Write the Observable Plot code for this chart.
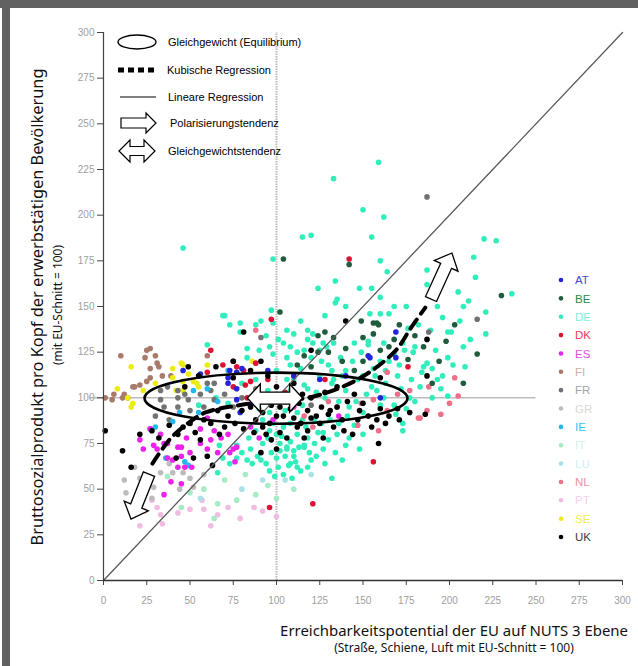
<!DOCTYPE html>
<html><head><meta charset="utf-8">
<script src="https://cdn.jsdelivr.net/npm/d3@7"></script>
<script src="https://cdn.jsdelivr.net/npm/@observablehq/plot@0.6"></script>
<style>body{margin:0;background:#fff;} #chart{width:638px;height:666px;position:relative;}</style>
</head><body><div id="chart"></div>
<script>
// ---------- data (index values EU = 100) ----------
const countries = ["AT","BE","DE","DK","ES","FI","FR","GR","IE","IT","LU","NL","PT","SE","UK"];
const dotColors = ["#2424dc","#1f5c3c","#30eebc","#dc1434","#ec22ec","#a87a6a","#727272","#bcbcbc","#22b8ee","#a6eac6","#a8e2e6","#ee7088","#f2bce2","#ecec14","#000000"];
const labelColors = ["#4848d4","#2a8a4a","#7cf0d4","#e43c58","#e04ee0","#cfb0a6","#a4a4a4","#d8d8d8","#30c6f0","#d2f4e2","#ccf2f2","#e8929c","#f4d2ec","#eeee44","#3a3a3a"];
const xTicks = [0,25,50,75,100,125,150,175,200,225,250,275,300];
const yTicks = [0,25,50,75,100,125,150,175,200,225,250,275,300];

const PT = [[21,30],[24,38],[31,40],[33,36],[43,37],[50,39],[58,39],[66,36],[72,40],[79,34],[87,40],[34,31],[28,44],[57,44],[62,30],[92,38],[100,35]];
const IT = [[37,57],[50,48],[58,50],[64,34],[66,42],[77,44],[88,47],[70,55],[95,52],[82,58],[100,45],[110,50],[45,40]];
const LU = [[80,50],[92,55],[105,55],[56,45],[120,58]];
const GR = [[12,55],[13,48],[21,56],[25,55],[29,51],[33,59],[40,59],[46,59],[50,56],[52,51],[18,62],[38,64],[28,45],[58,58],[44,50]];
const DE = [[159,229],[133,220],[150,203],[162,199],[115,188],[120,189],[155,188],[98,176],[160,175],[164,169],[134,164],[155,160],[187,170],[135,154],[134,152],[140,150],[175,150],[187,162],[220,187],[227,186],[214,177],[215,166],[205,158],[236,157],[193,150],[208,150],[211,153],[221,147],[165,146],[221,135],[189,137],[201,136],[46,182],[70,145],[97,148],[98,141],[79,136],[94,134],[101,132],[104,130],[73,140],[83,127],[90,126],[60,129],[83,122],[108,128],[112,125],[116,126],[106,122],[69,145],[79,141],[91,142],[106,137],[114,142],[121,135],[125,126],[133,130],[137,122],[145,130],[153,131],[98,124],[154,146],[160,146],[118,137],[199,136],[162,130],[153,129],[173,130],[180,128],[192,126],[208,128],[118,132],[121,130],[127,130],[129,128],[149,125],[179,125],[187,119],[199,122],[209,117],[185,117],[193,110],[183,106],[199,101],[110,110],[118,105],[125,112],[132,108],[140,104],[147,110],[155,106],[163,108],[170,112],[128,100],[136,98],[142,95],[150,92],[160,96],[115,96],[105,93],[95,104],[88,110],[80,108],[65,100],[72,97],[55,96],[100,115],[108,118],[130,118],[140,115],[165,120],[172,105],[180,98],[190,100],[102,75],[106,73],[108,76],[110,71],[113,73],[116,74],[105,68],[111,65],[107,63],[120,66],[124,81],[127,81],[127,72],[132,56],[169,91],[173,86],[173,82],[66,59],[69,67],[73,64],[77,67],[83,66],[89,68],[91,66],[97,70],[102,71],[106,72],[110,68],[116,73],[108,64],[100,67],[67,74],[77,74],[95,78],[100,80],[104,84],[112,80],[118,78],[122,75],[130,77],[135,80],[140,74],[96,60],[101,62],[114,60],[118,62],[85,72],[92,75],[145,85],[150,80],[98,86],[108,86],[115,88],
  [104,100],[108,104],[112,92],[117,84],[122,88],[126,86],[131,88],[136,86],[141,90],[146,98],[152,102],[158,104],[162,100],[168,96],[175,94],[178,110],[184,114],[190,116],[196,112],[174,126],[168,124],[160,120],[156,116],[150,112],[144,120],[138,112],[132,115],[126,120],[120,122],[114,116],[106,110],[100,98],[96,92],[92,88],[88,82],[84,78],[80,70],[86,64],[94,64],[99,57],[104,58],[109,56],[112,62],[119,70],[123,68],[128,64],[134,70],[138,66],[142,78],[148,72],[103,79],[96,82],[90,94],[116,107],[123,103],[133,110],[157,112],[163,115],[171,118],[177,100],[195,105],[202,118],[212,132],[206,142],[196,144],[182,140],[176,138],[168,150],[160,155],[148,160],[128,145],[110,135],[96,128],[88,140],[124,160]];
const FI = [[24,122],[27,116],[31,119],[32,117],[27,111],[34,112],[39,112],[18,106],[21,107],[6,102],[11,100],[12,102],[5,99],[1,100],[25,126],[30,123],[25,109],[17,106],[14,100],[60,123],[10,123],[27,127]];
const SE = [[16,117],[40,116],[46,118],[40,111],[46,109],[49,113],[54,108],[55,106],[14,100],[17,97],[42,104],[23,104],[45,119],[52,109],[46,104],[16,95],[86,120],[60,118],[30,108],[8,105]];
const FR = [[91,133],[60,108],[64,108],[37,106],[43,104],[47,102],[33,99],[62,104],[33,104],[43,100],[49,99],[56,102],[64,99],[35,95],[43,95],[187,210],[216,143],[188,136],[50,93],[70,102],[80,100],[88,105],[95,98],[30,90],[38,88],[120,96],[58,95],[75,95]];
const IE = [[27,83],[30,84],[36,67],[47,65],[49,63],[40,87],[55,92],[66,98],[72,115],[52,104],[60,105],[44,92]];
const ES = [[60,89],[56,83],[64,82],[68,78],[62,77],[72,80],[77,73],[27,83],[33,80],[37,75],[23,72],[31,72],[45,73],[73,70],[21,77],[29,74],[35,75],[43,73],[45,68],[50,70],[37,67],[43,62],[47,62],[56,75],[60,72],[39,54],[35,47],[45,53],[51,62],[76,65],[75,72],[136,90],[98,88],[85,84],[90,78],[40,66],[48,78],[66,70],[110,95]];
const NL = [[121,84],[135,95],[149,97],[156,99],[164,93],[177,104],[183,89],[187,93],[195,91],[147,85],[159,82],[182,89],[200,97],[164,114],[203,111],[188,106],[88,137],[130,98],[116,90],[205,101],[170,102]];
const DK = [[142,176],[97,143],[62,126],[69,118],[77,117],[82,107],[60,114],[75,120],[81,115],[88,119],[75,106],[83,100],[85,109],[176,117],[156,65],[121,42],[96,40],[105,103],[112,99],[95,110],[128,110]];
const AT = [[169,136],[169,122],[154,122],[73,115],[77,114],[80,116],[56,113],[72,111],[72,108],[77,105],[77,99],[86,97],[79,92],[46,115],[153,123],[95,115],[110,112],[125,110],[140,112],[160,100]];
const BE = [[104,176],[142,173],[149,142],[156,141],[159,140],[171,140],[128,136],[124,134],[133,133],[158,141],[198,131],[156,135],[216,124],[116,123],[124,125],[138,120],[150,120],[176,121],[194,120],[208,108],[102,147],[168,132],[160,126],[145,115],[130,125],[185,128],[203,140],[150,133],[112,118],[165,128],[180,134],[140,127],[230,156],[120,117],[190,108]];
const UK = [[1,82],[11,71],[16,62],[21,80],[28,82],[32,78],[38,85],[43,80],[46,84],[53,81],[56,77],[50,86],[60,68],[63,63],[52,67],[42,67],[81,83],[87,81],[92,84],[97,77],[102,81],[106,78],[104,90],[110,89],[114,86],[120,89],[123,90],[133,84],[139,82],[144,80],[158,88],[159,75],[171,88],[186,91],[150,97],[140,142],[120,126],[187,112],[160,111],[187,132],[81,136],[75,120],[91,120],[49,117],[75,111],[47,106],[85,95],[92,92],[97,96],[100,90],[108,94],[113,97],[118,93],[126,95],[130,91],[135,95],[141,98],[148,93],[153,90],[160,94],[165,90],[80,93],[72,90],[66,93],[62,86],[70,84],[90,100],[120,100],[128,103],[55,112],[65,117],[85,115],[95,112],[100,106],[110,108],[115,102],[145,102],[135,106],
  [96,86],[102,95],[107,99],[112,84],[118,82],[125,86],[131,93],[138,88],[147,88],[155,84],[163,86],[170,94],[177,92],[76,86],[67,80],[58,88],[88,88],[94,80],[116,78],[127,78],[100,72],[91,70]];

const drawOrder = [["PT",PT],["IT",IT],["LU",LU],["GR",GR],["DE",DE],["FI",FI],["SE",SE],["FR",FR],["IE",IE],["ES",ES],["NL",NL],["DK",DK],["AT",AT],["BE",BE],["UK",UK]];

// regression lines
const linearFit = [{x:0,y:0},{x:300,y:300}];
const cubicFitX = [28.3,38.7,48.6,59,77.5,100,118,137,152.6,169,177.5,186];
const cubicFitY = [64,77.7,85.9,92,95.8,98.5,100,105.6,113.3,126,138,149.4];
// annotations in data units
const equilibrium = {cx:100, cy:99.5, rx:76, ry:14};
const polarArrows = [{x1:189.6,y1:153.8,x2:201.7,y2:179},{x1:26.6,y1:58,x2:16.2,y2:33.4}];
const balanceArrow = {x1:83.4, x2:115.4, y:99.6};

// ---------- build ----------
const points = [];
for (const [c, arr] of drawOrder) for (const [x,y] of arr) points.push({country:c, x, y});
const cubicFit = cubicFitX.map((x,i)=>({x, y:cubicFitY[i]}));

const plot = Plot.plot({
  width: 638, height: 666,
  marginLeft: 103, marginRight: 16, marginTop: 32, marginBottom: 86,
  style: {background: "none", fontFamily: "'Liberation Sans', Arial, sans-serif", fontSize: "10px", overflow: "visible"},
  x: {domain: [0, 300]},
  y: {domain: [0, 300]},
  color: {domain: countries, range: dotColors},
  marks: [
    Plot.ruleX([100], {y1: 0, y2: 300, stroke: "#bcbcbc", strokeWidth: 2, strokeDasharray: "1.5,1"}),
    Plot.ruleY([100], {x1: -8, x2: 250, stroke: "#9c9c9c", strokeWidth: 1}),
    Plot.dot(points, {x: "x", y: "y", fill: "country", r: 2.8}),
    Plot.line(linearFit, {x: "x", y: "y", stroke: "#5a5a5a", strokeWidth: 1.3}),
    Plot.line(cubicFit, {x: "x", y: "y", stroke: "#000", strokeWidth: 4, strokeDasharray: "11,7", curve: "catmull-rom"}),
    Plot.axisY({ticks: yTicks, tickSize: 6, tickPadding: 3, label: null}),
    Plot.axisX({ticks: xTicks, tickSize: 5, tickPadding: 11, label: null}),
    Plot.ruleX([0], {y1: 0, y2: 300, stroke: "#444", strokeWidth: 1.2}),
    Plot.ruleY([0], {x1: 0, x2: 300, stroke: "#333", strokeWidth: 1.6})
  ]
});
document.getElementById("chart").appendChild(plot);

const svg = d3.select(plot);
svg.selectAll('g[aria-label$="tick label"]').attr("fill", "#a0a0a0");
svg.selectAll('g[aria-label$="-axis tick"]').attr("stroke", "#444");
const X = plot.scale("x"), Y = plot.scale("y");
const sx = v => X.apply(v), sy = v => Y.apply(v);

// frame
svg.insert("rect", ":first-child").attr("x",0).attr("y",0).attr("width",638).attr("height",8).attr("fill","#616161");
svg.insert("rect", ":first-child").attr("x",2).attr("y",0).attr("width",8).attr("height",666).attr("fill","#616161");

// block arrow helpers (pixel geometry built from data anchors)
function blockArrow(px1, py1, px2, py2, w, hw, hl, doubleHead) {
  const dx = px2-px1, dy = py2-py1, L = Math.hypot(dx,dy);
  const ux = dx/L, uy = dy/L, nx = -uy, ny = ux;
  const P = (bx,by,o) => [bx + nx*o, by + ny*o];
  const bx2 = px2 - ux*hl, by2 = py2 - uy*hl;
  let pts;
  if (!doubleHead) {
    pts = [P(px1,py1,w/2), P(bx2,by2,w/2), P(bx2,by2,hw/2), [px2,py2], P(bx2,by2,-hw/2), P(bx2,by2,-w/2), P(px1,py1,-w/2)];
  } else {
    const bx1 = px1 + ux*hl, by1 = py1 + uy*hl;
    pts = [[px1,py1], P(bx1,by1,hw/2), P(bx1,by1,w/2), P(bx2,by2,w/2), P(bx2,by2,hw/2), [px2,py2], P(bx2,by2,-hw/2), P(bx2,by2,-w/2), P(bx1,by1,-w/2), P(bx1,by1,-hw/2)];
  }
  return "M" + pts.map(p => p[0].toFixed(1)+","+p[1].toFixed(1)).join("L") + "Z";
}

const ann = svg.append("g");
ann.append("ellipse")
  .attr("cx", sx(equilibrium.cx)).attr("cy", sy(equilibrium.cy))
  .attr("rx", sx(equilibrium.cx + equilibrium.rx) - sx(equilibrium.cx))
  .attr("ry", sy(equilibrium.cy - equilibrium.ry) - sy(equilibrium.cy))
  .attr("fill","none").attr("stroke","#000").attr("stroke-width",2.6);
for (const a of polarArrows) {
  ann.append("path").attr("d", blockArrow(sx(a.x1), sy(a.y1), sx(a.x2), sy(a.y2), 12, 26, 14, false))
    .attr("fill","#fff").attr("stroke","#000").attr("stroke-width",1.3);
}
ann.append("path").attr("d", blockArrow(sx(balanceArrow.x1), sy(balanceArrow.y), sx(balanceArrow.x2), sy(balanceArrow.y), 12, 28, 13, true))
  .attr("fill","#fff").attr("stroke","#000").attr("stroke-width",1.4);

// legend (top-left)
const lg = svg.append("g").attr("font-family","'Liberation Sans', Arial, sans-serif").attr("font-size",11).attr("fill","#000").attr("text-anchor","start");
lg.append("ellipse").attr("cx",137).attr("cy",42).attr("rx",19).attr("ry",7).attr("fill","none").attr("stroke","#000").attr("stroke-width",1.4);
lg.append("line").attr("x1",118).attr("x2",155).attr("y1",70).attr("y2",70).attr("stroke","#000").attr("stroke-width",5).attr("stroke-dasharray","6,4");
lg.append("line").attr("x1",120).attr("x2",156).attr("y1",97).attr("y2",97).attr("stroke","#000").attr("stroke-width",1.2);
lg.append("path").attr("d", blockArrow(121,123,156,123,10,20,10,false)).attr("fill","#fff").attr("stroke","#000").attr("stroke-width",1.2);
lg.append("path").attr("d", blockArrow(119,151,155,151,9,22,11,true)).attr("fill","#fff").attr("stroke","#000").attr("stroke-width",1.2);
const legendTexts = [["Gleichgewicht (Equilibrium)",168,42],["Kubische Regression",167,70],["Lineare Regression",168,97],["Polarisierungstendenz",170,123],["Gleichgewichtstendenz",168,151]];
for (const [t,x,y] of legendTexts) lg.append("text").attr("x",x).attr("y",y).attr("dy","0.35em").text(t);

// legend (countries)
const cl = svg.append("g").attr("font-family","'Liberation Sans', Arial, sans-serif").attr("font-size",11.5).attr("text-anchor","start");
countries.forEach((c,i) => {
  const y = 280 + i*18.36;
  cl.append("circle").attr("cx",561).attr("cy",y).attr("r",2.3).attr("fill",dotColors[i]);
  cl.append("text").attr("x",575).attr("y",y).attr("dy","0.36em").attr("fill",labelColors[i]).text(c);
});

// axis titles
function fitText(sel, target) {
  const n = sel.node(); const fs = parseFloat(sel.attr("font-size"));
  const len = n.getComputedTextLength();
  if (len > 0) sel.attr("font-size", (fs*target/len).toFixed(2));
}
const tf = "'Noto Sans', 'Open Sans', sans-serif";
const yl = svg.append("text").attr("transform","translate(43,307) rotate(-90)").attr("text-anchor","middle")
  .attr("font-family",tf).attr("font-size",15).attr("fill","#111").text("Bruttosozialprodukt pro Kopf der erwerbstätigen Bevölkerung");
fitText(yl, 477);
const ys = svg.append("text").attr("transform","translate(62,305) rotate(-90)").attr("text-anchor","middle")
  .attr("font-family",tf).attr("font-size",11).attr("fill","#111").text("(mit EU-Schnitt = 100)");
fitText(ys, 120);
const xl = svg.append("text").attr("x",628).attr("y",636).attr("text-anchor","end")
  .attr("font-family",tf).attr("font-size",15).attr("fill","#111").text("Erreichbarkeitspotential der EU auf NUTS 3 Ebene");
fitText(xl, 348);
const xs = svg.append("text").attr("x",454).attr("y",652).attr("text-anchor","middle")
  .attr("font-family",tf).attr("font-size",10).attr("fill","#111").text("(Straße, Schiene, Luft mit EU-Schnitt = 100)");
fitText(xs, 240);
</script></body></html>
